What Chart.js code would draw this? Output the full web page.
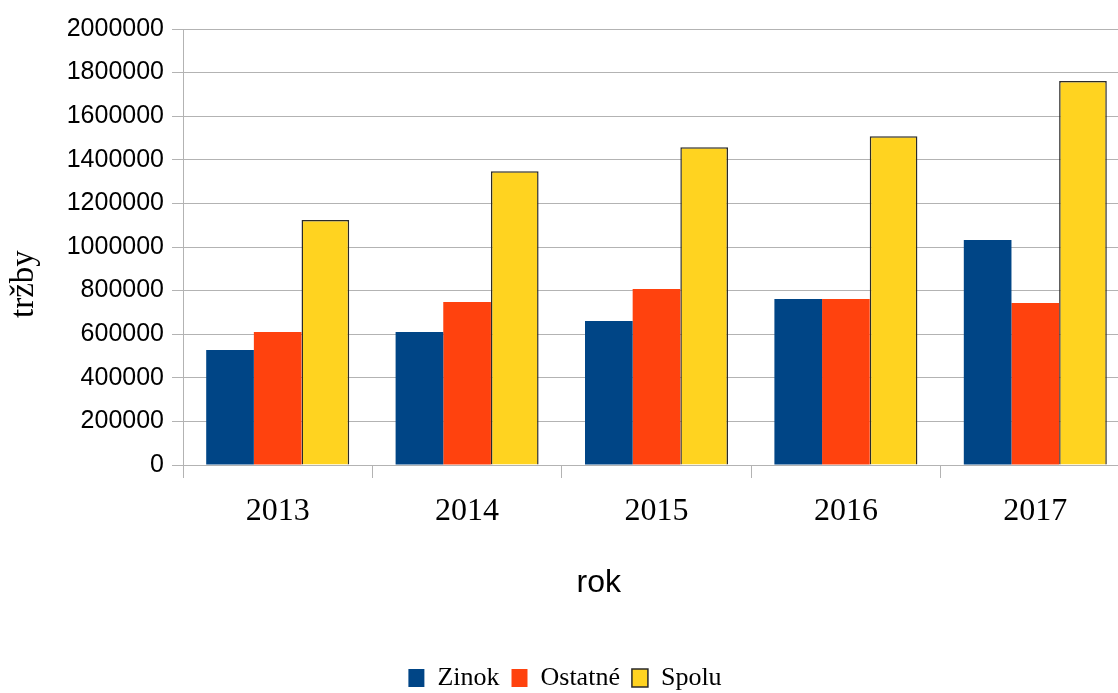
<!DOCTYPE html>
<html>
<head>
<meta charset="utf-8">
<script src="https://cdn.jsdelivr.net/npm/chart.js@4/dist/chart.umd.min.js"></script>
<style>
  html, body { margin: 0; padding: 0; background: #fff; overflow: hidden; }
  #wrap { width: 1130px; height: 701px; }
</style>
</head>
<body>
<div id="wrap"><canvas id="c" width="1130" height="701"></canvas></div>
<script>
const categories = ['2013', '2014', '2015', '2016', '2017'];
const zinok = [528000, 610000, 660000, 761000, 1032000];
const ostatne = [610000, 748000, 807000, 761000, 743000];
const spolu = [1124000, 1347000, 1457000, 1508000, 1761000];
const yTicks = [0, 200000, 400000, 600000, 800000, 1000000, 1200000, 1400000, 1600000, 1800000, 2000000];

const GRID = '#b3b3b3';
const NB = '\u00a0';

new Chart(document.getElementById('c'), {
  type: 'bar',
  data: {
    labels: categories,
    datasets: [
      { label: 'Zinok', data: zinok, backgroundColor: '#004586', borderWidth: 0 },
      { label: 'Ostatné', data: ostatne, backgroundColor: '#ff420e', borderWidth: 0 },
      { label: 'Spolu', data: spolu, backgroundColor: '#ffd320', borderColor: '#2a2a2a', borderWidth: 1.5 }
    ]
  },
  options: {
    responsive: false,
    animation: false,
    layout: { padding: { left: 0, right: 0, top: 29, bottom: 0 } },
    datasets: { bar: { categoryPercentage: 0.755, barPercentage: 1.0 } },
    plugins: {
      tooltip: { enabled: false },
      legend: {
        position: 'bottom',
        labels: {
          font: { family: '"Liberation Serif", "DejaVu Serif", serif', size: 26 },
          color: '#000',
          boxWidth: 16,
          boxHeight: 18,
          padding: 12
        }
      }
    },
    scales: {
      x: {
        offset: true,
        grid: { offset: true, drawOnChartArea: false, drawTicks: true, tickLength: 13, color: GRID },
        border: { color: GRID },
        ticks: {
          font: { family: '"Liberation Serif", "DejaVu Serif", serif', size: 32 },
          color: '#000',
          padding: 14,
          maxRotation: 0
        },
        title: {
          display: true,
          text: 'rok' + NB.repeat(13),
          font: { family: '"Liberation Sans", Arial, sans-serif', size: 32 },
          color: '#000',
          padding: { top: 0, bottom: 51 }
        },
        afterFit: s => { s.height = 188; }
      },
      y: {
        min: 0,
        max: 2000000,
        afterBuildTicks: s => { s.ticks = yTicks.map(v => ({ value: v })); },
        grid: { color: GRID, tickLength: 11 },
        border: { color: GRID },
        ticks: {
          font: { family: '"Liberation Sans", Arial, sans-serif', size: 25 },
          color: '#000',
          padding: 8,
          callback: v => String(v)
        },
        title: {
          display: true,
          text: 'tržby' + NB.repeat(9),
          font: { family: '"Liberation Serif", "DejaVu Serif", serif', size: 33 },
          color: '#000',
          padding: { top: 5, bottom: 0 }
        },
        afterFit: s => { s.width = 183; }
      }
    }
  }
});
</script>
</body>
</html>
